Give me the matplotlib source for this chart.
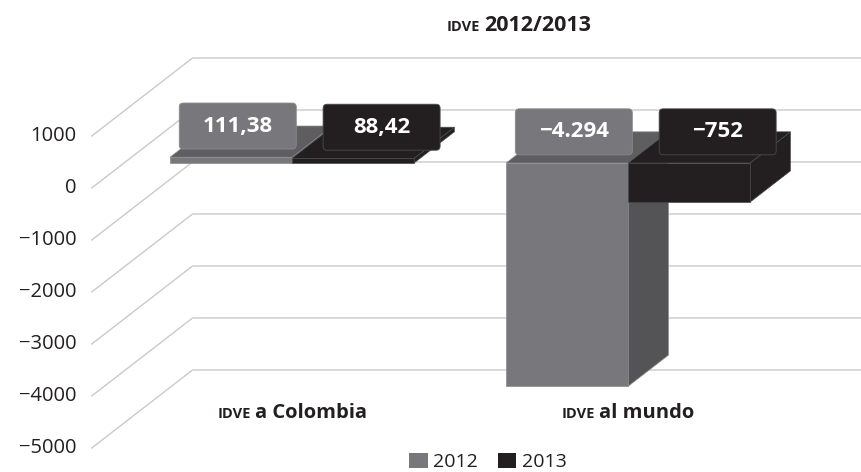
import matplotlib
matplotlib.use('Agg')
import matplotlib.pyplot as plt
from matplotlib.patches import Polygon, FancyBboxPatch, Patch
from matplotlib.offsetbox import TextArea, HPacker, AnnotationBbox
import matplotlib.transforms as mtransforms

plt.rcParams['font.family'] = ['Open Sans', 'DejaVu Sans']

# ---------------- data ----------------
category_prefix = 'IDVE'
categories = ['a Colombia', 'al mundo']
series_names = ['2012', '2013']
values_2012 = [111.38, -4294]
values_2013 = [88.42, -752]
value_labels_2012 = ['111,38', '\u22124.294']
value_labels_2013 = ['88,42', '\u2212752']
y_ticks = [1000, 0, -1000, -2000, -3000, -4000, -5000]
y_tick_labels = ['1000', '0', '\u22121000', '\u22122000', '\u22123000', '\u22124000', '\u22125000']
title_prefix = 'IDVE'
title_rest = '2012/2013'

# ---------------- style ----------------
TEXT = '#231f20'
FRONT = ['#78787c', '#231f20']
TOP = ['#5e5e61', '#231f20']
SIDE = ['#545457', '#231f20']
EDGE = ['#8a8a8e', '#4a4a4a']
GRID = '#cacaca'

XLIM = (-0.869, 1.696)
YLIM = (-5942, 3135)
DEPTH_X, DEPTH_V = 0.30, 1500.0   # front -> back offset
T_BAR, T_THICK = 0.32, 0.40       # bar plane & thickness (fraction of depth)
WALL_X = -0.50
BAR_W = 0.363
LABEL_DX = [0.02, 0.085]
BOX_W, BOX_H = 1.17, 0.46         # inches

def proj(x, v, t):
    return x + (t - T_BAR) * DEPTH_X, v + (t - T_BAR) * DEPTH_V

fig = plt.figure(figsize=(8.62, 4.72), dpi=100)
ax = fig.add_axes([0, 0, 1, 1])
ax.set_xlim(*XLIM)
ax.set_ylim(*YLIM)
ax.axis('off')

# gridlines (floor/side + back wall) and tick labels
for v, lab in zip(y_ticks, y_tick_labels):
    p0 = proj(WALL_X, v, 0)
    p1 = proj(WALL_X, v, 1)
    ax.plot([p0[0], p1[0], XLIM[1]], [p0[1], p1[1], p1[1]], color=GRID, lw=1.0, zorder=1)
    ax.text(p0[0] - 0.045, p0[1], lab, ha='right', va='center', fontsize=14.5, color=TEXT)

# bars
DX = T_THICK * DEPTH_X
DV = T_THICK * DEPTH_V
series = [values_2012, values_2013]
labels = [value_labels_2012, value_labels_2013]
label_pts = []
for s, vals in enumerate(series):
    for i, v in enumerate(vals):
        x0 = i - BAR_W + s * BAR_W
        x1 = x0 + BAR_W
        bot, top = min(0, v), max(0, v)
        z = 3 + s
        side = [(x1, bot), (x1, top), (x1 + DX, top + DV), (x1 + DX, bot + DV)]
        topf = [(x0, top), (x1, top), (x1 + DX, top + DV), (x0 + DX, top + DV)]
        front = [(x0, bot), (x1, bot), (x1, top), (x0, top)]
        ax.add_patch(Polygon(side, closed=True, fc=SIDE[s], ec=EDGE[s], lw=0.5, zorder=z))
        ax.add_patch(Polygon(topf, closed=True, fc=TOP[s], ec=EDGE[s], lw=0.5, zorder=z))
        ax.add_patch(Polygon(front, closed=True, fc=FRONT[s], ec=EDGE[s], lw=0.5, zorder=z))
        label_pts.append((s, x0 + BAR_W / 2 + LABEL_DX[s], top + DV, labels[s][i]))

# data label boxes
for s, cx, cy, txt in label_pts:
    tr = fig.dpi_scale_trans + mtransforms.ScaledTranslation(cx, cy, ax.transData)
    box = FancyBboxPatch((-BOX_W / 2, -BOX_H / 2), BOX_W, BOX_H,
                         boxstyle='round,pad=0,rounding_size=0.04',
                         fc=FRONT[s], ec=EDGE[s], lw=0.6, transform=tr, zorder=6)
    ax.add_patch(box)
    ax.text(cx, cy, txt, ha='center', va='center', fontsize=16, fontweight='bold',
            color='white', zorder=7)

def smallcaps(prefix, rest, small, big):
    a = TextArea(prefix, textprops=dict(fontsize=small, fontweight='bold', color=TEXT))
    b = TextArea(rest, textprops=dict(fontsize=big, fontweight='bold', color=TEXT))
    return HPacker(children=[a, b], align='baseline', pad=0, sep=3)

# category labels
for i, c in enumerate(categories):
    ab = AnnotationBbox(smallcaps(category_prefix, c, 10.5, 14.5), (i, 0.125),
                        xycoords=('data', 'axes fraction'), frameon=False,
                        box_alignment=(0.5, 0.5))
    ax.add_artist(ab)

# title
ab = AnnotationBbox(smallcaps(title_prefix, title_rest, 10.5, 15.5), (0.602, 0.947),
                    xycoords='figure fraction', frameon=False, box_alignment=(0.5, 0.5))
ax.add_artist(ab)

# legend
handles = [Patch(facecolor=FRONT[0]), Patch(facecolor=FRONT[1])]
ax.legend(handles, series_names, loc='center', bbox_to_anchor=(0.566, 0.021),
          bbox_transform=fig.transFigure, ncol=2, frameon=False, fontsize=14,
          handlelength=0.95, handleheight=0.8, handletextpad=0.3, columnspacing=1.0,
          labelcolor=TEXT, borderpad=0)

fig.savefig('out.png', dpi=100)
